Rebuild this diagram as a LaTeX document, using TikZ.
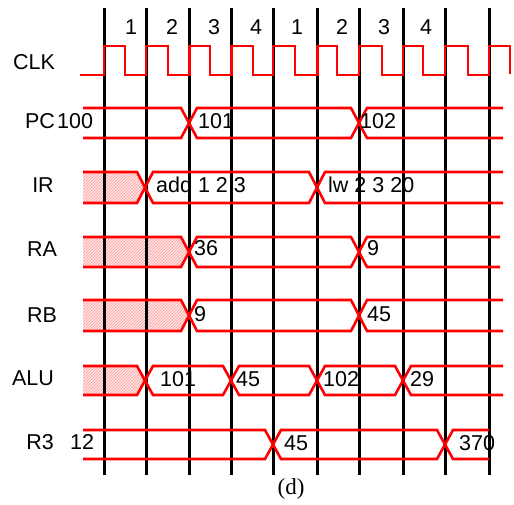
\documentclass[tikz,border=0pt]{standalone}
\usepackage{fontspec}
\setmainfont{Liberation Sans}
\newfontfamily\serifd{Liberation Serif}
\usetikzlibrary{patterns}
\newcommand\busfirst[4]{\draw[bus] (#3,#1) -- ({#4-8},#1) -- (#4,{(#1+#2)/2}) -- ({#4-8},#2) -- (#3,#2);}
\newcommand\hatchfirst[4]{\fill[red!10] (#3,#1) -- ({#4-8},#1) -- (#4,{(#1+#2)/2}) -- ({#4-8},#2) -- (#3,#2) -- cycle;
 \fill[hatch] (#3,#1) -- ({#4-8},#1) -- (#4,{(#1+#2)/2}) -- ({#4-8},#2) -- (#3,#2) -- cycle;}
\newcommand\busmid[4]{\draw[bus] (#3,{(#1+#2)/2}) -- ({#3+8},#1) -- ({#4-8},#1) -- (#4,{(#1+#2)/2}) -- ({#4-8},#2) -- ({#3+8},#2) -- cycle;}
\newcommand\buslast[4]{\draw[bus] (#4,#1) -- ({#3+8},#1) -- (#3,{(#1+#2)/2}) -- ({#3+8},#2) -- (#4,#2);}
\begin{document}
\begin{tikzpicture}[x=1pt,y=-1pt,
  bus/.style={draw=red,line width=2.6pt},
  hatch/.style={pattern=north east lines,pattern color=red!40},
  grid/.style={draw=black,line width=3pt},
  txt/.style={inner sep=0pt,font=\fontsize{21.5}{24}\selectfont},
  val/.style={txt,anchor=west}]
\useasboundingbox (0,0) rectangle (514,504);
% hatched unknown regions
\hatchfirst{172}{203}{83}{145}
\hatchfirst{237}{267}{83}{189}
\hatchfirst{300}{331}{83}{189}
\hatchfirst{366}{395}{83}{145}
% cycle lines
\foreach \x in {104,146,189.5,231.5,273,317.5,359,403,445,489}
  \draw[grid] (\x,8) -- (\x,475);
% PC
\busfirst{108}{138}{83}{189}
\busmid{108}{138}{189}{359}
\buslast{108}{138}{359}{503}
% IR
\busfirst{172}{203}{83}{145}
\busmid{172}{203}{145}{317}
\buslast{172}{203}{317}{503}
% RA
\busfirst{237}{267}{83}{189}
\busmid{237}{267}{189}{359}
\buslast{237}{267}{359}{500}
% RB
\busfirst{300}{331}{83}{189}
\busmid{300}{331}{189}{359}
\buslast{300}{331}{359}{503}
% ALU
\busfirst{366}{395}{83}{145}
\busmid{366}{395}{145}{231}
\busmid{366}{395}{231}{317}
\busmid{366}{395}{317}{403}
\buslast{366}{395}{403}{503}
% R3
\busfirst{430}{459}{83}{273}
\busmid{430}{459}{273}{445}
\buslast{430}{459}{445}{489}
% clock
\draw[bus,line join=miter] (80,75)
  -- (104,75) -- (104,46) -- (125,46) -- (125,75)
  -- (146,75) -- (146,46) -- (168,46) -- (168,75)
  -- (189.5,75) -- (189.5,46) -- (210,46) -- (210,75)
  -- (231.5,75) -- (231.5,46) -- (253,46) -- (253,75)
  -- (273,75) -- (273,46) -- (295,46) -- (295,75)
  -- (317.5,75) -- (317.5,46) -- (337,46) -- (337,75)
  -- (359,75) -- (359,46) -- (382,46) -- (382,75)
  -- (403,75) -- (403,46) -- (423,46) -- (423,75)
  -- (445,75) -- (445,46) -- (468,46) -- (468,75)
  -- (489,75) -- (489,46) -- (510,46) -- (510,74);
% cycle numbers
\node[txt] (n1) at (131,27) {1};
\node[txt] (n2) at (172,27) {2};
\node[txt] (n3) at (214,27) {3};
\node[txt] (n4) at (256,27) {4};
\node[txt] (n5) at (297,27) {1};
\node[txt] (n6) at (342,27) {2};
\node[txt] (n7) at (384,27) {3};
\node[txt] (n8) at (426,27) {4};
% row labels
\node[txt] (lclk) at (34,62.5) {CLK};
\node[txt] (lpc) at (40,121) {PC};
\node[val] (vpc0) at (57,121) {100};
\node[txt] (lir) at (43,185) {IR};
\node[txt] (lra) at (42,249) {RA};
\node[txt] (lrb) at (42,315) {RB};
\node[txt] (lalu) at (33,378) {ALU};
\node[txt] (lr3) at (40,442) {R3};
\node[val] (vr30) at (70,442) {12};
% values
\node[val] (vpc1) at (198,121) {101};
\node[val] (vpc2) at (360,121) {102};
\node[val] (vir1) at (156,185) {add 1 2 3};
\node[val] (vir2) at (328,185) {lw 2 3 20};
\node[val] (vra1) at (194,248) {36};
\node[val] (vra2) at (367,248) {9};
\node[val] (vrb1) at (194,314) {9};
\node[val] (vrb2) at (367,314) {45};
\node[val] (val1) at (160,379) {101};
\node[val] (val2) at (236,379) {45};
\node[val] (val3) at (323,379) {102};
\node[val] (val4) at (410,379) {29};
\node[val] (vr31) at (284,443) {45};
\node[val] (vr32) at (459,443) {370};
\node[inner sep=0pt,font=\serifd\fontsize{23}{26}\selectfont] (cap) at (291,489) {(d)};
\end{tikzpicture}
\end{document}
